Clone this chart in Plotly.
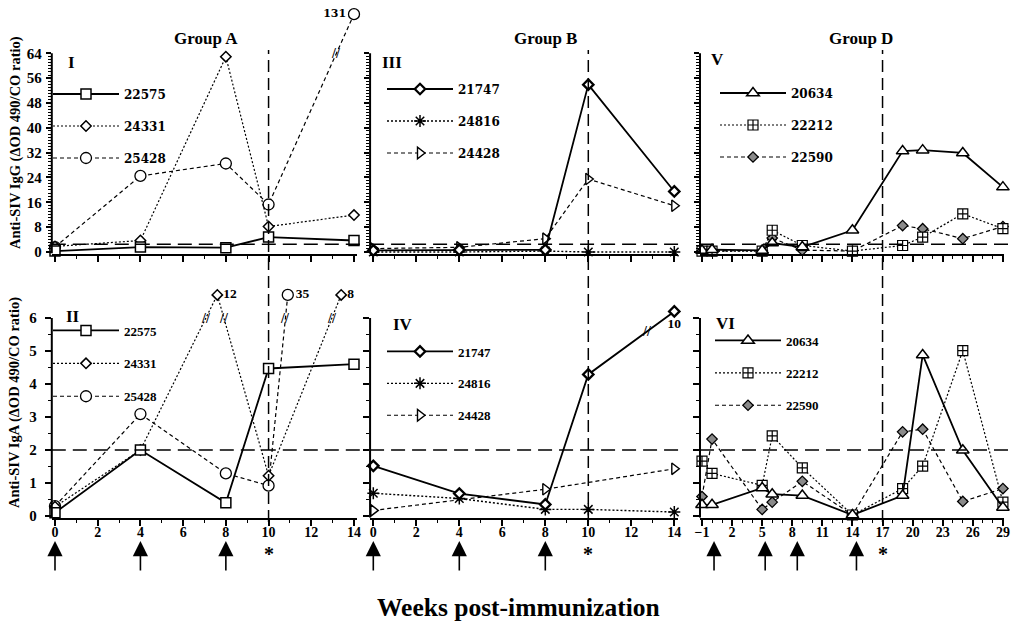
import plotly.graph_objects as go

W, H = 1023, 627

# ---------------- data ----------------
weeks_A = [0, 4, 8, 10, 14]
weeks_B = [0, 4, 8, 10, 14]
weeks_D = [-1, 0, 5, 6, 9, 14, 19, 21, 25, 29]

# Panel I  (IgG, Group A)
igg_a_22575 = [0.3, 1.6, 1.4, 4.8, 3.7]
igg_a_24331 = [1.8, 3.7, 62.9, 8.2, 11.9]
igg_a_25428 = [1.6, 24.5, 28.5, 15.3, 131]

# Panel II (IgA, Group A) - off-scale peaks sit where the figure draws them
iga_a_22575_wk = [0, 4, 8, 10, 14]
iga_a_22575 = [0.1, 2.0, 0.4, 4.47, 4.6]
iga_a_24331_wk = [0, 4, 7.6, 10, 13.4]
iga_a_24331 = [0.28, 2.0, 12, 1.22, 8]
iga_a_25428_wk = [0, 4, 8, 10, 10.9]
iga_a_25428 = [0.3, 3.09, 1.29, 0.92, 35]

# Panel III (IgG, Group B)
igg_b_21747 = [0.5, 0.7, 0.7, 53.9, 19.5]
igg_b_24816 = [0.0, 0.0, 0.3, 0.0, 0.0]
igg_b_24428 = [1.1, 1.5, 4.3, 23.5, 14.9]

# Panel IV (IgA, Group B)
iga_b_21747 = [1.52, 0.68, 0.35, 4.29, 10]
iga_b_24816 = [0.69, 0.53, 0.2, 0.2, 0.12]
iga_b_24428_wk = [0, 8, 14]
iga_b_24428 = [0.17, 0.81, 1.43]

# Panel V (IgG, Group D)
igg_d_20634 = [0.5, 0.75, 0.5, 2.9, 1.6, 7.0, 32.5, 32.8, 31.9, 20.9]
igg_d_22212 = [0.3, 0.3, 0.3, 7.0, 2.1, 0.3, 2.1, 4.8, 12.3, 7.5]
igg_d_22590 = [0.3, 0.3, 0.5, 4.5, 0.6, 0.3, 8.5, 7.5, 4.3, 8.2]

# Panel VI (IgA, Group D)
iga_d_20634 = [0.34, 0.34, 0.85, 0.66, 0.62, 0.03, 0.62, 4.88, 1.99, 0.26]
iga_d_22212 = [1.66, 1.29, 0.93, 2.43, 1.46, 0.03, 0.83, 1.51, 5.01, 0.42]
iga_d_22590 = [0.59, 2.33, 0.2, 0.42, 1.05, 0.03, 2.55, 2.63, 0.44, 0.83]

immun_A = [0, 4, 8]
immun_B = [0, 4, 8]
immun_D = [0.2, 5.3, 8.5, 14.4]
boost_A, boost_B, boost_D = 10, 10, 17

cutoff_igg = 2.5
cutoff_iga = 2.0

igg_ticks = [0, 8, 16, 24, 32, 40, 48, 56, 64]
iga_ticks = [0, 1, 2, 3, 4, 5, 6]
xticks_AB = [0, 2, 4, 6, 8, 10, 12, 14]
xticks_D = [-1, 2, 5, 8, 11, 14, 17, 20, 23, 26, 29]

group_titles = ["Group A", "Group B", "Group D"]
ytitle_igg = "Anti-SIV IgG (\u0394OD 490/CO ratio)"
ytitle_iga = "Anti-SIV IgA (\u0394OD 490/CO ratio)"
xtitle = "Weeks post-immunization"

# ---------------- styling ----------------
SERIF = "Liberation Serif"
WIDE = "DejaVu Serif"

styles = {
    "22575": dict(symbol="square", size=10, fill="white", dash="solid", lw=1.8, mlw=1.5),
    "24331": dict(symbol="diamond", size=8, fill="white", dash="2px,2px", lw=1.2, mlw=1.5),
    "25428": dict(symbol="circle", size=11, fill="white", dash="4px,3px", lw=1.2, mlw=1.3),
    "21747": dict(symbol="diamond", size=8, fill="white", dash="solid", lw=1.8, mlw=2.3),
    "24816": dict(symbol="asterisk-open", size=10, fill="black", dash="2px,2px", lw=1.4, mlw=1.5),
    "24428": dict(symbol="triangle-right", size=10, fill="white", dash="4px,3px", lw=1.2, mlw=1.4),
    "20634": dict(symbol="triangle-up", size=11, fill="white", dash="solid", lw=1.8, mlw=1.5),
    "22212": dict(symbol="square-cross", size=10, fill="white", dash="2px,2px", lw=1.2, mlw=1.2),
    "22590": dict(symbol="diamond", size=8, fill="#8a8a8a", dash="4px,3px", lw=1.2, mlw=1.3),
}

# pixel geometry of the six panels
x_ranges = {"A": [-0.15, 14.15], "B": [-0.15, 14.15], "D": [-1.2, 29.15]}
x_pix = {"A": (55, 21.357, 0), "B": (373.3, 21.5, 0), "D": (702, 10.03, -1)}
y_ranges = {"igg": [-0.5, 80], "iga": [-0.05, 7.0]}
y_pix = {"igg": (252, 3.105), "iga": (516, 33.0)}

LEG_W = 66  # legend symbol width


def xdomain(g):
    p0, s, w0 = x_pix[g]
    lo, hi = x_ranges[g]
    return [(p0 + (lo - w0) * s) / W, (p0 + (hi - w0) * s) / W]


def ydomain(k):
    p0, s = y_pix[k]
    lo, hi = y_ranges[k]
    top = p0 - hi * s
    bot = p0 - lo * s
    return [1 - bot / H, 1 - top / H]


def paper_note(px, py, text, size, family=SERIF, angle=0):
    return dict(x=px / W, y=1 - py / H, xref="paper", yref="paper", xanchor="center", yanchor="middle",
                text=text, showarrow=False, textangle=angle,
                font=dict(family=family, size=size, color="black", weight="bold"))


# lmark = (x of legend marker, y of first legend row) in pixels
panels = [
    dict(n=1, g="A", k="igg", label="I", lab=(71, 62), cap=76.6, top=64, brk=64, lfont=(WIDE, 12),
         lmark=(86, 93), gap=13,
         series=[("22575", weeks_A, igg_a_22575), ("24331", weeks_A, igg_a_24331), ("25428", weeks_A, igg_a_25428)]),
    dict(n=2, g="A", k="iga", label="II", lab=(73, 316), cap=6.7, top=6, brk=6.0, lfont=(SERIF, 13),
         lmark=(86, 332), gap=13,
         series=[("22575", iga_a_22575_wk, iga_a_22575), ("24331", iga_a_24331_wk, iga_a_24331),
                 ("25428", iga_a_25428_wk, iga_a_25428)]),
    dict(n=3, g="B", k="igg", label="III", lab=(392, 62), cap=76.6, top=64, brk=64, lfont=(WIDE, 12),
         lmark=(420, 88), gap=13,
         series=[("21747", weeks_B, igg_b_21747), ("24816", weeks_B, igg_b_24816), ("24428", weeks_B, igg_b_24428)]),
    dict(n=4, g="B", k="iga", label="IV", lab=(403, 324), cap=6.2, top=6, brk=5.6, lfont=(SERIF, 13),
         lmark=(420, 353), gap=12,
         series=[("21747", weeks_B, iga_b_21747), ("24816", weeks_B, iga_b_24816), ("24428", iga_b_24428_wk, iga_b_24428)]),
    dict(n=5, g="D", k="igg", label="V", lab=(717.5, 59), cap=76.6, top=64, brk=64, lfont=(WIDE, 12),
         lmark=(753, 92), gap=13,
         series=[("20634", weeks_D, igg_d_20634), ("22212", weeks_D, igg_d_22212), ("22590", weeks_D, igg_d_22590)]),
    dict(n=6, g="D", k="iga", label="VI", lab=(725.5, 323), cap=6.7, top=6, brk=6.0, lfont=(SERIF, 13),
         lmark=(748, 342), gap=12.5,
         series=[("20634", weeks_D, iga_d_20634), ("22212", weeks_D, iga_d_22212), ("22590", weeks_D, iga_d_22590)]),
]

fig = go.Figure()
annotations = []
shapes = []


def sfx(n):
    return "" if n == 1 else str(n)


for p in panels:
    n = p["n"]
    xa, ya = "x" + sfx(n), "y" + sfx(n)
    leg = "legend" + sfx(n)
    # drawn in reverse so the first animal sits on top; legend order kept by legendrank
    for rank, (name, wk, vals) in reversed(list(enumerate(p["series"]))):
        st = styles[name]
        disp = [v if v <= p["top"] else p["cap"] for v in vals]
        txt = [("" if v <= p["top"] else f"{v:g}") for v in vals]
        if n == 1:
            pos = "middle left"
        elif n == 4:
            pos = "bottom center"
        else:
            pos = "middle right"
        tfont = dict(family=WIDE, size=11, color="black", weight="bold") if p["k"] == "igg" else \
            dict(family=SERIF, size=13.5, color="black", weight="bold")
        fig.add_trace(go.Scatter(
            x=wk, y=disp, name=name, xaxis=xa, yaxis=ya, legend=leg, legendgroup=f"{n}-{name}",
            legendrank=rank + 1,
            mode="lines+markers+text" if any(txt) else "lines+markers",
            text=txt, textposition=pos, textfont=tfont,
            line=dict(color="black", width=st["lw"], dash=st["dash"]),
            marker=dict(symbol=st["symbol"], size=st["size"], color=st["fill"],
                        line=dict(color="black", width=st["mlw"])),
            cliponaxis=False, hoverinfo="skip",
        ))
        # break marks where a line leaves the scale
        for i in range(len(vals) - 1):
            a, b = vals[i], vals[i + 1]
            if (a > p["top"]) != (b > p["top"]):
                t = (p["brk"] - disp[i]) / (disp[i + 1] - disp[i])
                bx = wk[i] + t * (wk[i + 1] - wk[i])
                annotations.append(dict(x=bx, y=p["brk"], xref=xa, yref=ya, text="//", showarrow=False,
                                        xanchor="center", yanchor="middle",
                                        font=dict(family=SERIF, size=14, color="black", weight="bold")))

    mx, my = p["lmark"]
    fam, fs = p["lfont"]
    first_row = 13.5 if fam == WIDE else 16.5
    fig.update_layout(**{leg: dict(
        x=(mx - (LEG_W + 10) / 2) / W, y=1 - (my - first_row) / H, xanchor="left", yanchor="top",
        bgcolor="rgba(0,0,0,0)", borderwidth=0, itemwidth=LEG_W, tracegroupgap=p["gap"],
        font=dict(family=fam, size=fs, color="black", weight="bold"), traceorder="grouped",
        itemclick=False, itemdoubleclick=False)})

    # axes
    g, k = p["g"], p["k"]
    bottom = k == "iga"
    xt = xticks_D if g == "D" else xticks_AB
    fig.update_layout(**{
        "xaxis" + sfx(n): dict(
            domain=xdomain(g), range=x_ranges[g], anchor=ya, showgrid=False, zeroline=False,
            automargin=False,
            showline=True, linecolor="black", linewidth=2,
            tickmode="array", tickvals=xt, ticks="outside", ticklen=6, tickwidth=1.5, tickcolor="black",
            showticklabels=bottom, ticklabelstandoff=-5,
            tickfont=dict(family=SERIF, size=14, color="black", weight="bold"),
            minor=dict(tickmode="linear", tick0=xt[0], dtick=1, ticks="outside", ticklen=3,
                       tickwidth=1, tickcolor="black"),
        ),
        "yaxis" + sfx(n): dict(
            domain=ydomain(k), range=y_ranges[k], anchor=xa, showgrid=False, zeroline=False,
            automargin=False,
            showline=False, tickmode="array",
            tickvals=iga_ticks if bottom else igg_ticks,
            ticks="outside", ticklen=6 if bottom else 5, tickwidth=1.5, tickcolor="black",
            showticklabels=(g == "A"),
            ticklabelstandoff=5 if bottom else 1,
            tickfont=dict(family=SERIF, size=15, color="black", weight="bold"),
            minor=dict(tickmode="array",
                       tickvals=[i + 0.5 for i in range(6)] if bottom else list(range(0, 65)),
                       ticks="outside", ticklen=3, tickwidth=1, tickcolor="black"),
        ),
    })
    # y axis line stopping at the top tick
    shapes.append(dict(type="line", xref=xa + " domain", x0=0, x1=0, yref=ya,
                       y0=y_ranges[k][0], y1=p["top"], line=dict(color="black", width=2)))
    # cut-off line
    cut = cutoff_iga if bottom else cutoff_igg
    shapes.append(dict(type="line", xref=xa + " domain", x0=0, x1=1.02, yref=ya, y0=cut, y1=cut,
                       line=dict(color="black", width=1.5, dash="14px,7px")))
    annotations.append(paper_note(p["lab"][0], p["lab"][1], p["label"], 17))

# vertical dashed lines (boost week) crossing both rows
for xa, wk in (("x", boost_A), ("x3", boost_B), ("x5", boost_D)):
    shapes.append(dict(type="line", xref=xa, x0=wk, x1=wk, yref="paper", y0=1 - 522 / H, y1=1 - 50 / H,
                       line=dict(color="black", width=1.5, dash="12px,6px")))

# group titles
for txt, cx in zip(group_titles, (205.5, 545, 860.5)):
    annotations.append(paper_note(cx, 39, txt, 17))

# y titles
annotations.append(paper_note(15, 143, ytitle_igg, 14.5, angle=-90))
annotations.append(paper_note(15, 403, ytitle_iga, 14.5, angle=-90))

# x title
annotations.append(paper_note(518, 607, xtitle, 25.5))

# immunization arrows and boost asterisks
for xa, weeks, boost in (("x2", immun_A, boost_A), ("x4", immun_B, boost_B), ("x6", immun_D, boost_D)):
    for wk in weeks:
        annotations.append(dict(x=wk, y=1 - 541 / H, xref=xa, yref="paper", text="", showarrow=True,
                                ax=0, ay=31, arrowhead=2, arrowsize=1.9, arrowwidth=1.6, arrowcolor="black",
                                standoff=0))
    annotations.append(dict(x=boost, y=1 - 554 / H, xref=xa, yref="paper", text="*", showarrow=False,
                            xanchor="center", yanchor="middle",
                            font=dict(family=SERIF, size=20, color="black", weight="bold")))

fig.update_layout(
    width=W, height=H, margin=dict(l=0, r=0, t=0, b=0, pad=0, autoexpand=False),
    plot_bgcolor="white", paper_bgcolor="white",
    font=dict(family=SERIF, color="black"),
    showlegend=True, annotations=annotations, shapes=shapes,
)

fig.write_html("out.html", config={"displayModeBar": False},
               post_script="document.body.style.margin='0px';")
